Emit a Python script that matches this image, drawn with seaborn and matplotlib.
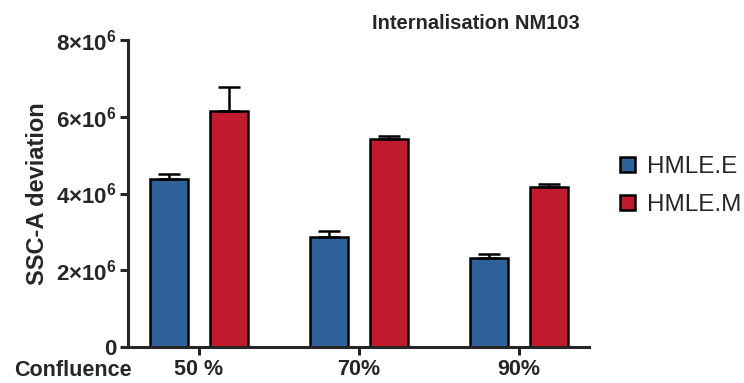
import matplotlib
matplotlib.use("Agg")
import matplotlib.pyplot as plt
from matplotlib.ticker import FuncFormatter
import pandas as pd
import seaborn as sns

# Data
confluence = ["50 %", "70%", "90%"]
groups = ["HMLE.E", "HMLE.M"]
hmle_e = [4.38e6, 2.86e6, 2.31e6]
hmle_m = [6.15e6, 5.43e6, 4.16e6]
err_e = [0.13e6, 0.16e6, 0.11e6]
err_m = [0.62e6, 0.06e6, 0.08e6]
yticks = [0, 2e6, 4e6, 6e6, 8e6]

colors = {"HMLE.E": "#2E6299", "HMLE.M": "#C11B2D"}

sns.set_style("ticks")
plt.rcParams["font.family"] = ["Liberation Sans", "DejaVu Sans"]
plt.rcParams["mathtext.fontset"] = "custom"
plt.rcParams["mathtext.rm"] = "Liberation Sans:bold"
plt.rcParams["mathtext.bf"] = "Liberation Sans:bold"
plt.rcParams["mathtext.it"] = "Liberation Sans:bold"

df = pd.DataFrame({
    "Confluence": confluence * 2,
    "group": [groups[0]] * 3 + [groups[1]] * 3,
    "value": hmle_e + hmle_m,
})

fig = plt.figure(figsize=(7.44, 3.83), dpi=100)
ax = fig.add_axes([128 / 744, 1 - 347 / 383, 461 / 744, 307 / 383])

sns.barplot(
    data=df, x="Confluence", y="value", hue="group",
    palette=colors, width=0.75, gap=0.37, errorbar=None,
    edgecolor="black", linewidth=1.8, ax=ax, saturation=1,
)

# one-sided error bars on top of each bar
for container, errs in zip(ax.containers, [err_e, err_m]):
    for bar, e in zip(container, errs):
        x = bar.get_x() + bar.get_width() / 2
        h = bar.get_height()
        ax.errorbar(x, h, yerr=[[0], [e]], fmt="none", ecolor="black",
                    elinewidth=1.8, capsize=8, capthick=1.8, zorder=1)

ax.set_ylim(0, 8e6)
ax.set_xlim(-0.444, 2.4375)
ax.set_yticks(yticks)
ax.yaxis.set_major_formatter(FuncFormatter(
    lambda v, p: "0" if v == 0 else r"$%d{\times}10^{6}$" % round(v / 1e6)))

for side in ["top", "right"]:
    ax.spines[side].set_visible(False)
for side in ["left", "bottom"]:
    ax.spines[side].set_linewidth(2.2)

ax.tick_params(axis="both", width=2.2, length=6)
ax.tick_params(axis="x", pad=2.5, labelsize=15.5)
ax.tick_params(axis="y", pad=2, labelsize=16)
for lab in ax.get_xticklabels() + ax.get_yticklabels():
    lab.set_fontweight("bold")

ax.set_ylabel("SSC-A deviation", fontsize=17, fontweight="bold", labelpad=5)
ax.set_xlabel("Confluence", fontsize=15.5, fontweight="bold")
ax.xaxis.set_label_coords(-0.119, -0.042)

ax.set_title("Internalisation NM103", fontsize=14.5, fontweight="bold",
             x=0.755, y=1.0, pad=8)

handles, labels = ax.get_legend_handles_labels()
leg = ax.legend(handles, labels, loc="center left",
                bbox_to_anchor=(620 / 744, 1 - 186 / 383),
                bbox_transform=fig.transFigure, frameon=False,
                fontsize=17.5, handlelength=0.6, handleheight=0.6,
                handletextpad=0.5, labelspacing=0.65, borderpad=0,
                borderaxespad=0)
for p in leg.get_patches():
    p.set_linewidth(1.8)
    p.set_edgecolor("black")

fig.savefig("out.png", dpi=100)
